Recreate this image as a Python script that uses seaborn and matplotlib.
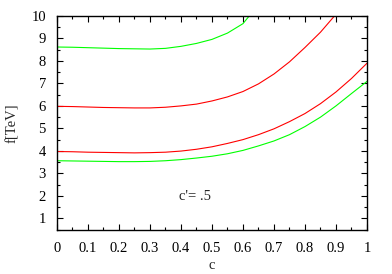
import matplotlib
matplotlib.use('Agg')
import matplotlib.pyplot as plt
import seaborn as sns
import pandas as pd
from matplotlib.ticker import MultipleLocator

# values (c vs f[TeV])
c_green_top = [0, 0.05, 0.1, 0.15, 0.2, 0.25, 0.3, 0.35, 0.4, 0.45, 0.5, 0.55, 0.6, 0.62]
f_green_top = [8.62, 8.61, 8.59, 8.57, 8.55, 8.54, 8.53, 8.56, 8.65, 8.78, 8.96, 9.24, 9.66, 10.0]

c_red_top = [0, 0.05, 0.1, 0.15, 0.2, 0.25, 0.3, 0.35, 0.4, 0.45, 0.5, 0.55, 0.6, 0.65,
             0.7, 0.75, 0.8, 0.85, 0.895]
f_red_top = [5.98, 5.97, 5.95, 5.93, 5.92, 5.91, 5.91, 5.94, 6.00, 6.08, 6.22, 6.40, 6.64, 6.98,
             7.42, 7.96, 8.60, 9.28, 10.0]

c_full = [0, 0.05, 0.1, 0.15, 0.2, 0.25, 0.3, 0.35, 0.4, 0.45, 0.5, 0.55, 0.6, 0.65,
          0.7, 0.75, 0.8, 0.85, 0.9, 0.95, 1.0]
f_red_low = [3.97, 3.96, 3.94, 3.93, 3.92, 3.91, 3.92, 3.94, 3.99, 4.07, 4.18, 4.33, 4.50, 4.72,
             4.98, 5.30, 5.66, 6.10, 6.62, 7.22, 7.90]
f_green_low = [3.56, 3.55, 3.54, 3.53, 3.52, 3.52, 3.53, 3.56, 3.61, 3.68, 3.76, 3.87, 4.02, 4.22,
               4.44, 4.72, 5.08, 5.50, 6.00, 6.55, 7.09]

sns.set_style('ticks')
plt.rcParams['font.family'] = ['Liberation Serif', 'DejaVu Serif']

fig = plt.figure(figsize=(3.92, 2.74), dpi=100)
ax = fig.add_axes([0.1454, 0.1624, 0.9362 - 0.1454, 0.9416 - 0.1624])

curves = [
    (c_green_top, f_green_top, '#00ff00'),
    (c_red_top, f_red_top, '#ff0000'),
    (c_full, f_red_low, '#ff0000'),
    (c_full, f_green_low, '#00ff00'),
]
for cs, fs, col in curves:
    d = pd.DataFrame({'c': cs, 'f': fs})
    sns.lineplot(data=d, x='c', y='f', color=col, lw=0.8, sort=False, ax=ax)

ax.text(0.395, 1.95, "c'= .5", fontsize=10.5, va='center', ha='left')

ax.set_xlim(0, 1)
ax.set_ylim(0.5, 10)
ax.xaxis.set_minor_locator(MultipleLocator(0.05))
ax.yaxis.set_minor_locator(MultipleLocator(0.5))
ax.set_xticks([0, 0.1, 0.2, 0.3, 0.4, 0.5, 0.6, 0.7, 0.8, 0.9, 1])
ax.set_xticklabels(['0', '0.1', '0.2', '0.3', '0.4', '0.5', '0.6', '0.7', '0.8', '0.9', '1'])
ax.set_yticks(range(1, 11))
ax.set_yticklabels([str(v) for v in range(1, 11)])
ax.tick_params(which='both', direction='in', top=True, right=True, colors='black',
               labelsize=10.5, width=0.8)
ax.tick_params(which='major', length=4)
ax.tick_params(axis='x', which='major', pad=9)
ax.tick_params(axis='y', which='major', pad=8)
ax.tick_params(which='minor', length=2)
for s in ax.spines.values():
    s.set_visible(True)
    s.set_color('black')
    s.set_linewidth(1.0)

ax.set_xlabel('c', fontsize=10.5, labelpad=3)
ax.set_ylabel('f[TeV]', fontsize=10.5, labelpad=9)

fig.savefig('out.png', dpi=100)
